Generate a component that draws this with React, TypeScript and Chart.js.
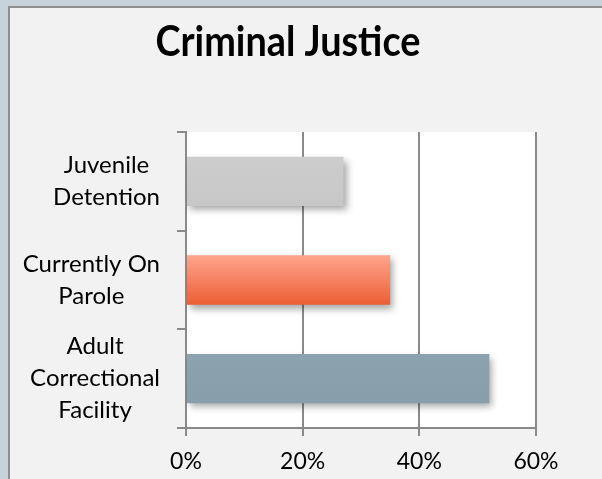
import { useEffect, useRef } from "react";
import { Chart, registerables } from "chart.js";

Chart.register(...registerables);

const title = "Criminal Justice";
const categories: string[][] = [
  ["Juvenile", "Detention"],
  ["Currently On", "Parole"],
  ["Adult", "Correctional", "Facility"],
];
const values: number[] = [27, 35, 52];
const xTickValues: number[] = [0, 20, 40, 60];
const barTopColors: string[] = ["#cdcdcd", "#ffa58e", "#8ca2ae"];
const barBottomColors: string[] = ["#c7c7c7", "#ec5e33", "#889eaa"];

const FONT = "Lato, 'Open Sans', sans-serif";
const BAR_PCT = 0.5;

export default function App() {
  const ref = useRef<HTMLCanvasElement | null>(null);

  useEffect(() => {
    const canvas = ref.current;
    if (!canvas) return;

    const framePlugin = {
      id: "frame",
      beforeDraw(chart: any) {
        const { ctx, width, height, chartArea } = chart;
        ctx.save();
        ctx.fillStyle = "#c7d3da";
        ctx.fillRect(0, 0, width, height);
        ctx.fillStyle = "#8e8e8e";
        ctx.fillRect(8, 6, width - 8, height - 6);
        ctx.fillStyle = "#f2f2f2";
        ctx.fillRect(10, 8, width - 10, height - 8);
        ctx.fillStyle = "#ffffff";
        ctx.fillRect(chartArea.left, chartArea.top, chartArea.right - chartArea.left, chartArea.bottom - chartArea.top);
        ctx.fillStyle = "#000000";
        ctx.font = `bold 42px ${FONT}`;
        ctx.textAlign = "center";
        ctx.textBaseline = "alphabetic";
        ctx.translate(288, 56);
        ctx.scale(0.9, 1);
        ctx.fillText(title, 0, 0);
        ctx.restore();
      },
      beforeDatasetsDraw(chart: any) {
        const ctx = chart.ctx;
        ctx.save();
        ctx.shadowColor = "rgba(0,0,0,0.35)";
        ctx.shadowBlur = 7;
        ctx.shadowOffsetX = 3;
        ctx.shadowOffsetY = 4;
      },
      afterDatasetsDraw(chart: any) {
        chart.ctx.restore();
      },
      afterDraw(chart: any) {
        const { ctx } = chart;
        const yScale = chart.scales.y;
        ctx.save();
        ctx.fillStyle = "#000000";
        ctx.font = `24px ${FONT}`;
        ctx.textAlign = "center";
        ctx.textBaseline = "middle";
        const lineH = 32;
        const rightEdge = yScale.right - 26;
        categories.forEach((lines, i) => {
          const cy = yScale.getPixelForValue(i);
          const maxW = Math.max(...lines.map((l) => ctx.measureText(l).width));
          const cx = rightEdge - maxW / 2;
          lines.forEach((line, j) => {
            const ly = cy + (j - (lines.length - 1) / 2) * lineH;
            ctx.fillText(line, cx, ly);
          });
        });
        ctx.restore();
      },
    };

    const chart = new Chart(canvas, {
      type: "bar",
      data: {
        labels: categories.map((c) => c.join(" ")),
        datasets: [
          {
            data: values,
            backgroundColor: (c: any) => {
              const i = c.dataIndex;
              const ch = c.chart;
              const yScale = ch.scales && ch.scales.y;
              if (!ch.chartArea || !yScale || i === undefined) return barTopColors[i ?? 0];
              const cy = yScale.getPixelForValue(i);
              const band = yScale.height / categories.length;
              const h = band * BAR_PCT;
              const top = cy - h / 2;
              if (!isFinite(top)) return barTopColors[i];
              const g = ch.ctx.createLinearGradient(0, top, 0, top + h);
              g.addColorStop(0, barTopColors[i]);
              g.addColorStop(1, barBottomColors[i]);
              return g;
            },
            borderWidth: 0,
            categoryPercentage: 1,
            barPercentage: BAR_PCT,
          },
        ],
      },
      plugins: [framePlugin],
      options: {
        indexAxis: "y",
        animation: false,
        responsive: false,
        devicePixelRatio: 1,
        layout: { padding: { top: 132, right: 66, left: 0, bottom: 0 } },
        plugins: {
          legend: { display: false },
          title: { display: false },
          tooltip: { enabled: false },
        },
        scales: {
          x: {
            min: 0,
            max: 60,
            afterBuildTicks: (scale: any) => {
              scale.ticks = xTickValues.map((v) => ({ value: v }));
            },
            afterFit: (scale: any) => {
              scale.height = 51;
            },
            ticks: {
              callback: (v: any) => `${v}%`,
              color: "#000000",
              font: { family: FONT, size: 23 },
              padding: 12,
              maxRotation: 0,
            },
            grid: {
              color: "#8a8a8a",
              lineWidth: 2,
              tickLength: 8,
              tickColor: "#8a8a8a",
            },
            border: { color: "#8a8a8a", width: 2 },
          },
          y: {
            afterFit: (scale: any) => {
              scale.width = 186;
            },
            ticks: { display: false },
            grid: {
              drawOnChartArea: false,
              offset: true,
              tickLength: 9,
              color: "#8a8a8a",
              lineWidth: 2,
            },
            border: { color: "#8a8a8a", width: 2 },
          },
        },
      },
    } as any);

    chart.update();

    return () => chart.destroy();
  }, []);

  return (
    <canvas
      ref={ref}
      width={602}
      height={479}
      style={{ position: "fixed", top: 0, left: 0, width: 602, height: 479 }}
    />
  );
}
